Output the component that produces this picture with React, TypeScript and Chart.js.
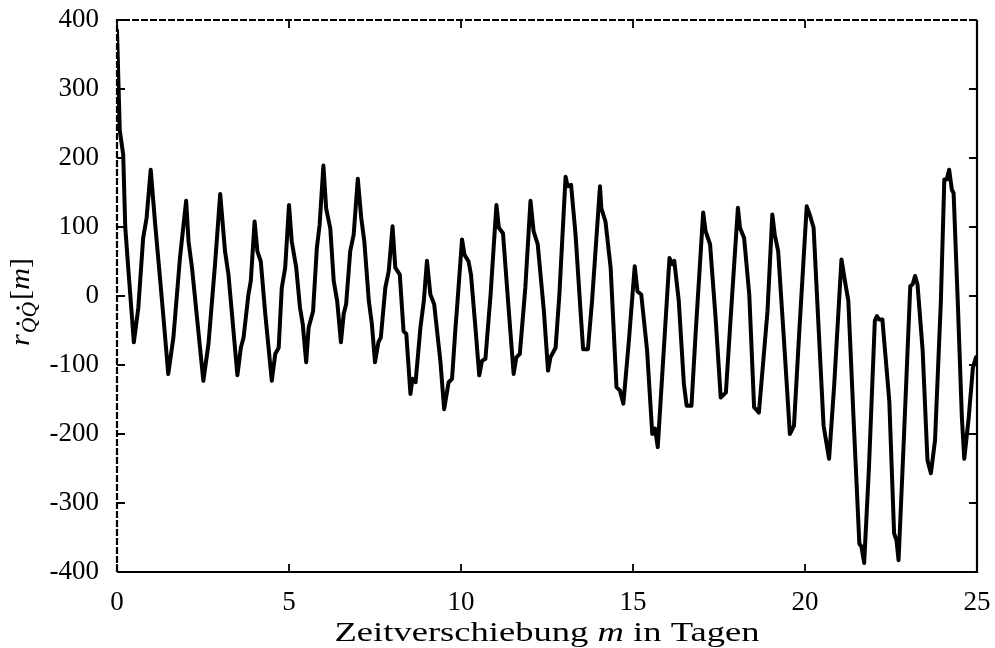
import React, { useEffect, useRef } from "react";
import { Chart, registerables } from "chart.js";

Chart.register(...registerables);

// Lag m in days (x) and autocorrelation r (y)
const lagDays = [
  0, 0.08, 0.18, 0.24, 0.32, 0.49, 0.62, 0.76, 0.86, 0.98,
  1.11, 1.25, 1.35, 1.49, 1.64, 1.83, 2.01, 2.08, 2.18, 2.51,
  2.66, 2.85, 3.0, 3.14, 3.24, 3.36, 3.5, 3.6, 3.68, 3.82,
  3.89, 4.0, 4.08, 4.18, 4.31, 4.5, 4.6, 4.7, 4.79, 4.89,
  5.0, 5.08, 5.21, 5.32, 5.4, 5.5, 5.57, 5.7, 5.81, 5.89,
  6.0, 6.08, 6.2, 6.3, 6.4, 6.51, 6.59, 6.66, 6.78, 6.88,
  7.0, 7.1, 7.19, 7.32, 7.41, 7.5, 7.6, 7.67, 7.8, 7.9,
  8.01, 8.09, 8.22, 8.33, 8.41, 8.53, 8.59, 8.68, 8.82, 8.92,
  9.01, 9.11, 9.22, 9.4, 9.51, 9.64, 9.74, 9.84, 9.9, 10.03,
  10.1, 10.22, 10.29, 10.42, 10.53, 10.61, 10.71, 10.86, 11.03, 11.1,
  11.22, 11.39, 11.53, 11.61, 11.71, 11.87, 12.02, 12.11, 12.23, 12.41,
  12.53, 12.6, 12.75, 12.86, 13.04, 13.1, 13.2, 13.33, 13.48, 13.55,
  13.69, 13.81, 14.04, 14.08, 14.2, 14.35, 14.52, 14.62, 14.72, 14.88,
  15.05, 15.13, 15.24, 15.41, 15.56, 15.64, 15.72, 16.06, 16.14, 16.2,
  16.33, 16.48, 16.56, 16.7, 16.82, 17.04, 17.11, 17.24, 17.4, 17.55,
  17.7, 17.84, 18.05, 18.11, 18.23, 18.38, 18.52, 18.66, 18.91, 19.05,
  19.12, 19.22, 19.39, 19.56, 19.68, 19.83, 20.05, 20.15, 20.25, 20.38,
  20.54, 20.7, 20.85, 21.06, 21.16, 21.26, 21.41, 21.58, 21.64, 21.72,
  21.86, 22.03, 22.09, 22.15, 22.25, 22.45, 22.59, 22.66, 22.72, 22.88,
  23.06, 23.13, 23.2, 23.27, 23.42, 23.56, 23.66, 23.78, 23.95, 24.05,
  24.12, 24.19, 24.27, 24.32, 24.44, 24.56, 24.63, 24.76, 24.88, 24.97,
  25.0,
];

const correlation = [
  385, 240, 205, 100, 45, -67, -17, 84, 113, 183,
  104, 26, -31, -113, -60, 55, 138, 79, 41, -123,
  -69, 46, 148, 65, 31, -36, -115, -75, -60, 2,
  22, 108, 65, 50, -26, -123, -84, -75, 12, 41,
  132, 79, 41, -17, -41, -96, -46, -22, 70, 103,
  189, 127, 98, 22, -7, -67, -26, -12, 65, 89,
  170, 113, 79, -7, -41, -96, -67, -60, 12, 36,
  101, 41, 31, -51, -55, -142, -120, -125, -46, -7,
  51, 2, -12, -94, -164, -125, -120, -46, -7, 82,
  60, 50, 31, -46, -115, -94, -91, 2, 132, 99,
  91, -22, -113, -89, -84, 12, 138, 94, 75, -22,
  -108, -89, -75, 2, 173, 159, 161, 89, -26, -77,
  -77, -7, 159, 127, 108, 41, -132, -137, -156, -65,
  43, 7, 2, -79, -200, -192, -219, 55, 46, 51,
  -7, -128, -159, -159, -55, 121, 94, 75, -31, -147,
  -140, -31, 128, 99, 84, 2, -161, -169, -22, 118,
  89, 65, -65, -200, -188, -55, 130, 116, 99, -31,
  -188, -236, -128, 53, 22, -7, -176, -359, -363, -387,
  -248, -36, -29, -34, -34, -152, -344, -354, -383, -200,
  14, 17, 29, 17, -79, -238, -257, -209, -7, 169,
  169, 183, 154, 149, -7, -176, -236, -176, -104, -89,
  -92,
];

const xRange = [0, 25];
const xStep = 5;
const yRange = [-400, 400];
const yStep = 100;

const xTitleParts = ["Zeitverschiebung ", "m", " in Tagen"];

const FONT = '"Liberation Serif", "Times New Roman", serif';
const FS = 27;

type Run = { t: string; f: string; dy: number; dot?: boolean; gap?: number };

function drawRuns(ctx: CanvasRenderingContext2D, runs: Run[], cx: number, by: number, targetW: number) {
  let w = 0;
  runs.forEach((r) => {
    ctx.font = r.f;
    w += ctx.measureText(r.t).width + (r.gap || 0);
  });
  const sx = targetW / w;
  ctx.save();
  ctx.translate(cx - targetW / 2, by);
  ctx.scale(sx, 1);
  ctx.textAlign = "left";
  ctx.textBaseline = "alphabetic";
  let x = 0;
  runs.forEach((r) => {
    ctx.font = r.f;
    const mw = ctx.measureText(r.t).width;
    ctx.fillText(r.t, x, r.dy);
    if (r.dot) {
      ctx.beginPath();
      ctx.ellipse(x + mw * 0.62, r.dy - 18, 1.7 / sx, 1.7, 0, 0, Math.PI * 2);
      ctx.fill();
    }
    x += mw + (r.gap || 0);
  });
  ctx.restore();
}

const framePlugin = {
  id: "frame",
  afterDatasetsDraw(chart: any) {
    const { ctx, chartArea, scales } = chart;
    const { left, right, top, bottom } = chartArea;
    ctx.save();
    ctx.strokeStyle = "#000";
    ctx.lineWidth = 2.2;
    ctx.beginPath();
    ctx.moveTo(left, bottom);
    ctx.lineTo(right, bottom);
    ctx.lineTo(right, top);
    ctx.stroke();
    ctx.setLineDash([7, 2]);
    ctx.beginPath();
    ctx.moveTo(left, bottom);
    ctx.lineTo(left, top);
    ctx.lineTo(right, top);
    ctx.stroke();
    ctx.setLineDash([]);
    const tl = 8;
    ctx.lineWidth = 1.8;
    ctx.beginPath();
    scales.x.ticks.forEach((t: any) => {
      const px = scales.x.getPixelForValue(t.value);
      ctx.moveTo(px, bottom);
      ctx.lineTo(px, bottom - tl);
      ctx.moveTo(px, top);
      ctx.lineTo(px, top + tl);
    });
    scales.y.ticks.forEach((t: any) => {
      const py = scales.y.getPixelForValue(t.value);
      ctx.moveTo(left, py);
      ctx.lineTo(left + tl, py);
      ctx.moveTo(right, py);
      ctx.lineTo(right - tl, py);
    });
    ctx.stroke();
    ctx.restore();
  },
  afterDraw(chart: any) {
    const { ctx, chartArea } = chart;
    const { left, right } = chartArea;
    ctx.save();
    ctx.fillStyle = "#000";
    const fReg = `28px ${FONT}`;
    const fIt = `italic 28px ${FONT}`;
    drawRuns(
      ctx,
      [
        { t: xTitleParts[0], f: fReg, dy: 0 },
        { t: xTitleParts[1], f: fIt, dy: 0 },
        { t: xTitleParts[2], f: fReg, dy: 0 },
      ],
      (left + right) / 2,
      641,
      425
    );

    // y title: r_{QdotQdot}[m], rotated
    ctx.save();
    ctx.translate(29, 302);
    ctx.rotate(-Math.PI / 2);
    const fSub = `italic 20px ${FONT}`;
    drawRuns(
      ctx,
      [
        { t: "r", f: `italic 28px ${FONT}`, dy: 0, gap: 1 },
        { t: "Q", f: fSub, dy: 7, dot: true },
        { t: "Q", f: fSub, dy: 7, dot: true, gap: 2 },
        { t: "[", f: fReg, dy: 0 },
        { t: "m", f: fIt, dy: 0 },
        { t: "]", f: fReg, dy: 0 },
      ],
      0,
      0,
      88
    );
    ctx.restore();
    ctx.restore();
  },
};

export default function App() {
  const ref = useRef<HTMLCanvasElement | null>(null);
  useEffect(() => {
    if (!ref.current) return;
    const points = lagDays.map((d, i) => ({ x: d, y: correlation[i] }));
    const chart = new Chart(ref.current, {
      type: "line",
      data: {
        datasets: [
          {
            data: points,
            borderColor: "#000",
            borderWidth: 4,
            pointRadius: 0,
            tension: 0,
            fill: false,
            borderJoinStyle: "round",
            borderCapStyle: "round",
          } as any,
        ],
      },
      options: {
        responsive: false,
        animation: false,
        events: [],
        layout: { padding: { top: 20, right: 18, left: 0, bottom: 0 } },
        plugins: {
          legend: { display: false },
          tooltip: { enabled: false },
          title: { display: false },
        },
        scales: {
          x: {
            type: "linear",
            min: xRange[0],
            max: xRange[1],
            grid: { display: false, drawTicks: false },
            border: { display: false },
            ticks: {
              stepSize: xStep,
              color: "#000",
              font: { family: FONT, size: FS },
              padding: 15,
              maxRotation: 0,
            },
            afterFit: (s: any) => {
              s.height = 76;
              s.paddingLeft = 0;
              s.paddingRight = 0;
            },
          },
          y: {
            type: "linear",
            min: yRange[0],
            max: yRange[1],
            grid: { display: false, drawTicks: false },
            border: { display: false },
            ticks: {
              stepSize: yStep,
              color: "#000",
              font: { family: FONT, size: FS },
              padding: 18,
            },
            afterFit: (s: any) => {
              s.width = 117;
              s.paddingTop = 0;
              s.paddingBottom = 0;
            },
          },
        },
      },
      plugins: [framePlugin],
    });
    return () => chart.destroy();
  }, []);
  return (
    <div style={{ position: "fixed", left: 0, top: 0, width: 995, height: 648, background: "#fff" }}>
      <canvas ref={ref} width={995} height={648} />
    </div>
  );
}
